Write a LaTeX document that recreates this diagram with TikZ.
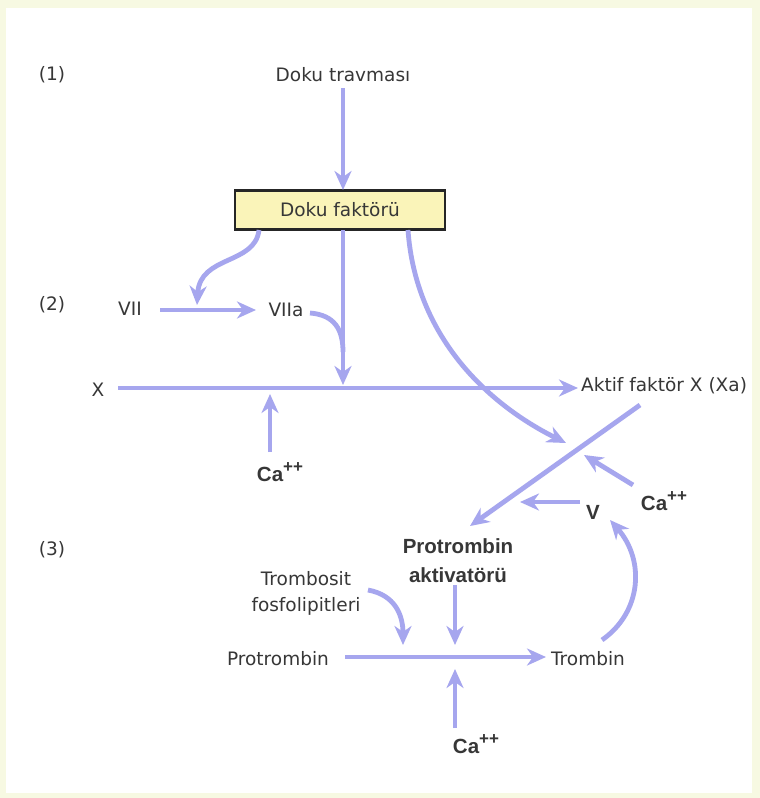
\documentclass[tikz,border=0pt]{standalone}
\usepackage{fontspec}
\setmainfont{DejaVu Sans}
\newfontfamily\boldface{Liberation Sans}
\usetikzlibrary{arrows.meta}
\definecolor{arr}{RGB}{166,166,238}
\definecolor{txt}{RGB}{55,55,55}
\definecolor{boxfill}{RGB}{250,244,185}
\definecolor{edge}{RGB}{247,249,226}
\newcommand{\plusplus}{\raisebox{0.42em}{\fontsize{17}{17}\selectfont ++}}
\tikzset{
  flow/.style={draw=arr, line width=4.8pt, -{Stealth[length=19pt,width=17pt,inset=6pt]}},
  plain/.style={draw=arr, line width=4.8pt},
  lbl/.style={text=txt, font=\fontsize{18.5}{22}\selectfont, inner sep=1pt},
  blbl/.style={text=txt, font=\boldface\fontsize{20.5}{29}\selectfont\bfseries, inner sep=1pt, align=center},
}
\begin{document}
\begin{tikzpicture}[x=1pt,y=-1pt]
\useasboundingbox (0,0) rectangle (760,798);
\fill[edge] (0,0) rectangle (760,798);
\fill[white] (6,8) rectangle (752,793);

% labels
\node[lbl] (n1) at (52,75) {(1)};
\node[lbl] (n2) at (52,305) {(2)};
\node[lbl] (n3) at (52,550) {(3)};
\node[lbl] (trav) at (343,75) {Doku travması};
\node[lbl, draw=black!85, line width=2.2pt, fill=boxfill, minimum width=210pt, minimum height=39pt] (box) at (340,210) {Doku faktörü};
\node[lbl] (vii) at (130,309) {VII};
\node[lbl] (viia) at (286,310) {VIIa};
\node[lbl] (x) at (98,390) {X};
\node[lbl, anchor=west] (xa) at (580,386) {Aktif faktör X (Xa)};
\node[blbl] (ca1) at (280,472) {Ca\plusplus};
\node[blbl] (ca2) at (664,501) {Ca\plusplus};
\node[blbl] (v) at (593,512) {V};
\node[blbl] (pa) at (458,561) {Protrombin\\aktivatörü};
\node[lbl, align=center, font=\fontsize{18.5}{26}\selectfont] (tf) at (306,593) {Trombosit\\fosfolipitleri};
\node[lbl] (pro) at (278,659) {Protrombin};
\node[lbl] (tro) at (588,659) {Trombin};
\node[blbl] (ca3) at (476,744) {Ca\plusplus};

% coordinates
\coordinate (t1) at (343,88);
\coordinate (t2) at (343,190);
\coordinate (b1) at (259,230);
\coordinate (b2) at (343,230);
\coordinate (b3) at (408,230);
\coordinate (viis) at (160,310);
\coordinate (viie) at (256,310);
\coordinate (viiline) at (197,305);
\coordinate (xjoin) at (343,385);
\coordinate (vjoin) at (343,352);
\coordinate (va) at (310,313);
\coordinate (xs) at (118,388);
\coordinate (xe) at (578,388);
\coordinate (cross) at (566,443);
\coordinate (d1) at (640,405);
\coordinate (d2) at (470,526);
\coordinate (ca2s) at (633,485);
\coordinate (ca2t) at (584,455);
\coordinate (vs) at (580,502);
\coordinate (vt) at (520,502);
\coordinate (trs) at (602,640);
\coordinate (trt) at (610,520);
\coordinate (pas) at (455,585);
\coordinate (pj) at (455,645);
\coordinate (tfs) at (368,590);
\coordinate (fj) at (403,645);
\coordinate (ps) at (345,657);
\coordinate (pe) at (546,657);
\coordinate (cas) at (455,728);
\coordinate (cj) at (455,669);
\coordinate (ca1s) at (270,452);
\coordinate (ca1t) at (270,394);

% arrows
\draw[flow] (t1) -- (t2);
\draw[flow] (b1) .. controls (255,265) and (200,255) .. (viiline);
\draw[flow] (viis) -- (viie);
\draw[flow] (b2) -- (xjoin);
\draw[plain] (va) .. controls (335,315) and (343,330) .. (vjoin);
\draw[flow] (xs) -- (xe);
\draw[flow] (ca1s) -- (ca1t);
\draw[flow] (b3) .. controls (415,330) and (480,400) .. (cross);
\draw[flow] (d1) -- (d2);
\draw[flow] (ca2s) -- (ca2t);
\draw[flow] (vs) -- (vt);
\draw[flow] (trs) .. controls (642,612) and (645,560) .. (trt);
\draw[flow] (pas) -- (pj);
\draw[flow] (tfs) .. controls (395,595) and (403,615) .. (fj);
\draw[flow] (ps) -- (pe);
\draw[flow] (cas) -- (cj);
\end{tikzpicture}
\end{document}
